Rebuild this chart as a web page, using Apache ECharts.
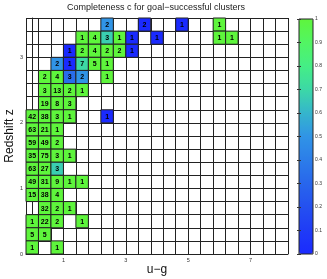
<!DOCTYPE html>
<html><head><meta charset="utf-8">
<script src="https://cdn.jsdelivr.net/npm/echarts@6/dist/echarts.min.js"></script>
<style>html,body{margin:0;padding:0;background:#fff}#c{width:327px;height:279px}</style>
</head><body><div id="c"></div>
<script>
// bin centres (u-g, z), cluster counts and completeness
const cellUG = [2.4,3.6,4.8,6.0, 1.6,2.0,2.4,2.8,3.2,4.0,6.0,6.4, 1.2,1.6,2.0,2.4,2.8,3.2, 0.8,1.2,1.6,2.0,2.4, 0.4,0.8,1.2,1.6,2.4, 0.4,0.8,1.2,1.6, 0.4,0.8,1.2, 0,0.4,0.8,1.2,2.4, 0,0.4,0.8, 0,0.4,0.8, 0,0.4,0.8,1.2, 0,0.4,0.8, 0,0.4,0.8,1.2,1.6, 0,0.4,0.8, 0.4,0.8,1.2, 0,0.4,0.8,1.6, 0,0.4, 0,0.8];
const cellZ = [3.5,3.5,3.5,3.5, 3.3,3.3,3.3,3.3,3.3,3.3,3.3,3.3, 3.1,3.1,3.1,3.1,3.1,3.1, 2.9,2.9,2.9,2.9,2.9, 2.7,2.7,2.7,2.7,2.7, 2.5,2.5,2.5,2.5, 2.3,2.3,2.3, 2.1,2.1,2.1,2.1,2.1, 1.9,1.9,1.9, 1.7,1.7,1.7, 1.5,1.5,1.5,1.5, 1.3,1.3,1.3, 1.1,1.1,1.1,1.1,1.1, 0.9,0.9,0.9, 0.7,0.7,0.7, 0.5,0.5,0.5,0.5, 0.3,0.3, 0.1,0.1];
const cellCount = [2,2,1,1, 1,4,3,1,1,1,1,1, 1,2,4,2,2,1, 2,1,7,5,1, 2,4,3,2,1, 3,13,2,1, 19,8,3, 42,38,3,1,1, 63,21,1, 59,49,2, 35,75,3,1, 63,27,3, 49,31,9,1,1, 15,38,4, 32,2,1, 1,22,2,1, 5,5, 1,1];
const cellComp = [0.5,0,0,1, 1,1,0.67,1,0,0,1,1, 0,1,1,1,1,0, 0.5,0,0.71,1,1, 1,1,0.33,0.5,1, 1,1,1,1, 1,1,1, 1,1,1,1,0, 1,1,1, 1,1,1, 1,1,1,1, 1,1,0.67, 1,1,1,1,1, 1,1,1, 1,1,1, 1,1,1,1, 1,1, 1,1];
const xTickLabels = [1,3,5,7];
const yTickLabels = [0,1,2,3];
const cbTicks = [0,0.1,0.2,0.3,0.4,0.5,0.6,0.7,0.8,0.9,1];
const binHalfW = 0.2, binHalfH = 0.1;

const data = cellUG.map((x,i)=>[x, cellZ[i], cellCount[i], cellComp[i]]);
const FONT = 'Liberation Sans, Arial, sans-serif';
const chart = echarts.init(document.getElementById('c'));
chart.setOption({
  animation:false,
  title:{text:'Completeness c for goal\u2212successful clusters', left:156, top:3, textAlign:'center', padding:0,
    textStyle:{fontSize:9, fontWeight:'normal', color:'#222', fontFamily:FONT}},
  grid:[
    {left:26, top:18, width:262, height:236, show:false, containLabel:false, outerBoundsMode:'none'},
    {left:299, top:19, width:14, height:235, show:true, backgroundColor:'transparent', borderColor:'#222', borderWidth:1, z:10, containLabel:false, outerBoundsMode:'none'}
  ],
  xAxis:[
    {type:'value', gridIndex:0, min:-0.2, max:8.2, interval:0.4, name:'u\u2212g', nameLocation:'middle', nameGap:10, nameMoveOverlap:false,
     nameTextStyle:{fontSize:12, color:'#111', fontFamily:FONT},
     axisLine:{show:true, lineStyle:{color:'#222', width:1}},
     axisTick:{show:false},
     axisLabel:{fontSize:5.5, color:'#333', margin:3, fontFamily:FONT, customValues:xTickLabels},
     splitLine:{show:true, lineStyle:{color:'#222', width:1}}},
    {type:'value', gridIndex:1, min:0, max:1, show:false}
  ],
  yAxis:[
    {type:'value', gridIndex:0, min:0, max:3.6, interval:0.2, name:'Redshift z', nameLocation:'middle', nameGap:10, nameMoveOverlap:false,
     nameTextStyle:{fontSize:12, color:'#111', fontFamily:FONT},
     axisLine:{show:true, lineStyle:{color:'#222', width:1}},
     axisTick:{show:false},
     axisLabel:{fontSize:5.5, color:'#333', margin:3, fontFamily:FONT, customValues:yTickLabels},
     splitLine:{show:true, lineStyle:{color:'#222', width:1}}},
    {type:'value', gridIndex:1, min:0, max:1, interval:0.1, position:'right', z:10,
     axisLine:{show:false},
     axisTick:{show:true, inside:true, length:2, lineStyle:{color:'#333'}},
     axisLabel:{fontSize:5, color:'#333', margin:2, fontFamily:FONT, customValues:cbTicks},
     splitLine:{show:false}},
    {type:'value', gridIndex:1, min:0, max:1, interval:0.1, position:'left', z:10,
     axisLine:{show:false},
     axisTick:{show:true, inside:true, length:2, lineStyle:{color:'#333'}},
     axisLabel:{show:false}, splitLine:{show:false}}
  ],
  visualMap:{type:'continuous', min:0, max:1, dimension:3, seriesIndex:0, show:true, calculable:false,
    left:299, top:19, itemWidth:14, itemHeight:235, text:['',''], padding:0, z:1,
    inRange:{color:['#1a2aff','#1f3cf6','#2450f0','#2866ec','#2c7de9','#3094e6','#35b5cc','#3cd8a6','#45ee85','#52f563','#5ef53c']}},
  series:[{
    type:'custom', xAxisIndex:0, yAxisIndex:0, data:data,
    renderItem:function(params, api){
      const x = api.value(0), y = api.value(1);
      const p1 = api.coord([x-binHalfW, y+binHalfH]);
      const p2 = api.coord([x+binHalfW, y-binHalfH]);
      const c = api.coord([x, y]);
      return {type:'group', children:[
        {type:'rect', shape:{x:p1[0], y:p1[1], width:p2[0]-p1[0], height:p2[1]-p1[1]},
         style:{fill:api.visual('color'), stroke:'#222', lineWidth:1}},
        {type:'text', style:{text:String(api.value(2)), x:c[0], y:c[1]+0.5, align:'center', verticalAlign:'middle',
          font:'bold 7px Liberation Sans, Arial, sans-serif', fill:'#000'}}
      ]};
    }
  }]
});
</script></body></html>
